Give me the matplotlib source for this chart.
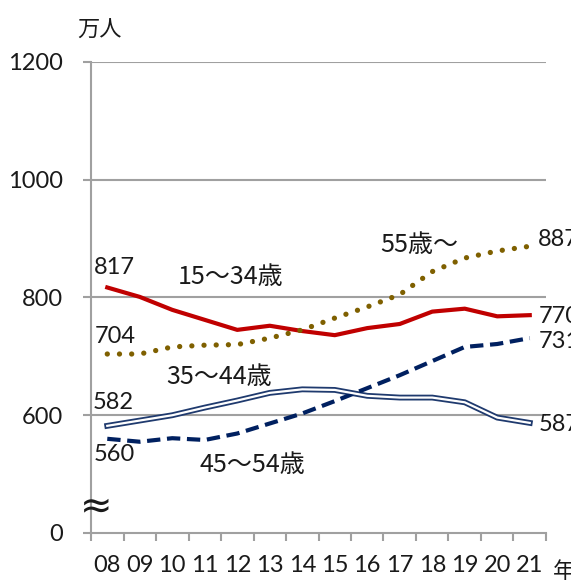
import numpy as np
import matplotlib.pyplot as plt

# data (万人), 2008-2021
years = ['08', '09', '10', '11', '12', '13', '14', '15', '16', '17', '18', '19', '20', '21']
age15_34 = [817, 801, 779, 762, 745, 752, 743, 736, 748, 755, 776, 781, 768, 770]
age35_44 = [582, 591, 600, 613, 625, 638, 644, 643, 633, 630, 630, 622, 596, 587]
age45_54 = [560, 555, 561, 558, 569, 586, 603, 624, 646, 668, 692, 716, 721, 731]
age55 = [704, 704, 716, 719, 720, 731, 745, 765, 784, 805, 844, 867, 879, 887]

yticks = [400, 600, 800, 1000, 1200]
ytick_labels = ['0', '600', '800', '1000', '1200']

num_font = 'Lato'
jp_font = ['Noto Sans CJK JP', 'DejaVu Sans']
grid_c = '#a0a0a0'
txt_c = '#1a1a1a'

fig = plt.figure(figsize=(5.71, 5.82), dpi=100)
ax = fig.add_axes([0.1594, 0.0842, 0.9562 - 0.1594, 0.8935 - 0.0842])
x = np.arange(len(years))

ax.set_xlim(-0.5, len(years) - 0.5)
ax.set_ylim(400, 1200)

for v in yticks[1:]:
    ax.axhline(v, color=grid_c, lw=1.5, zorder=1)

# lines
ax.plot(x, age15_34, color='#c00000', lw=3, zorder=4, solid_joinstyle='round')
ax.plot(x, age35_44, color='#1f3a6e', lw=4.2, zorder=4)
ax.plot(x, age35_44, color='white', lw=1.6, zorder=4.1)
ax.plot(x, age45_54, color='#002060', lw=3, linestyle=(0, (3.2, 1.6)), zorder=4)
ax.plot(x, age55, color='#7f6000', lw=3.8, linestyle=(0, (0.01, 2.3)),
        dash_capstyle='round', zorder=4)

# axes styling
for s in ['top', 'right']:
    ax.spines[s].set_visible(False)
for s in ['left', 'bottom']:
    ax.spines[s].set_color(grid_c)
    ax.spines[s].set_linewidth(1.5)

ax.set_yticks(yticks)
ax.set_yticklabels(ytick_labels, fontfamily=num_font, fontsize=17, color=txt_c)
ax.tick_params(axis='y', length=6, width=1.5, color=grid_c, pad=14)

ax.set_xticks(x)
ax.set_xticklabels(years, fontfamily=num_font, fontsize=17, color=txt_c)
ax.set_xticks(np.arange(-0.5, len(years)), minor=True)
ax.tick_params(axis='x', which='major', length=0, pad=16)
ax.tick_params(axis='x', which='minor', length=6, width=1.5, color=grid_c)

# value labels
def lab(i, vals, dx, dy, ha='center'):
    ax.annotate(str(vals[i]), (x[i], vals[i]), xytext=(dx, dy), textcoords='offset pixels',
                ha=ha, va='center', fontfamily=num_font, fontsize=17, color=txt_c,
                zorder=5, annotation_clip=False)

lab(0, age15_34, 7, 20)
lab(0, age55, 8, 18)
lab(0, age35_44, 6, 23)
lab(0, age45_54, 7, -16)
lab(-1, age55, 8, 7, 'left')
lab(-1, age15_34, 9, -1, 'left')
lab(-1, age45_54, 9, -3, 'left')
lab(-1, age35_44, 9, -2, 'left')

# series names
ax.text(3.78, 834, '15～34歳', ha='center', va='center', fontfamily=jp_font, fontsize=18,
        color=txt_c, zorder=3, bbox=dict(facecolor='white', edgecolor='none', pad=2))
ax.text(3.45, 665, '35～44歳', ha='center', va='center', fontfamily=jp_font, fontsize=18,
        color=txt_c, zorder=3)
ax.text(4.46, 515, '45～54歳', ha='center', va='center', fontfamily=jp_font, fontsize=18,
        color=txt_c, zorder=3)
ax.text(9.6, 889, '55歳～', ha='center', va='center', fontfamily=jp_font, fontsize=18,
        color=txt_c, zorder=3)

# axis break mark and units
ax.text(-0.34, 446, '≈', ha='center', va='center', fontsize=28, color=txt_c,
        zorder=6, clip_on=False)
fig.text(99 / 571, 1 - 30 / 582, '万人', ha='center', va='center', fontfamily=jp_font,
         fontsize=16, color=txt_c)
fig.text(553 / 571, 1 - 571 / 582, '年', ha='left', va='center', fontfamily=jp_font,
         fontsize=16, color=txt_c)

fig.savefig('out.png', dpi=100)
